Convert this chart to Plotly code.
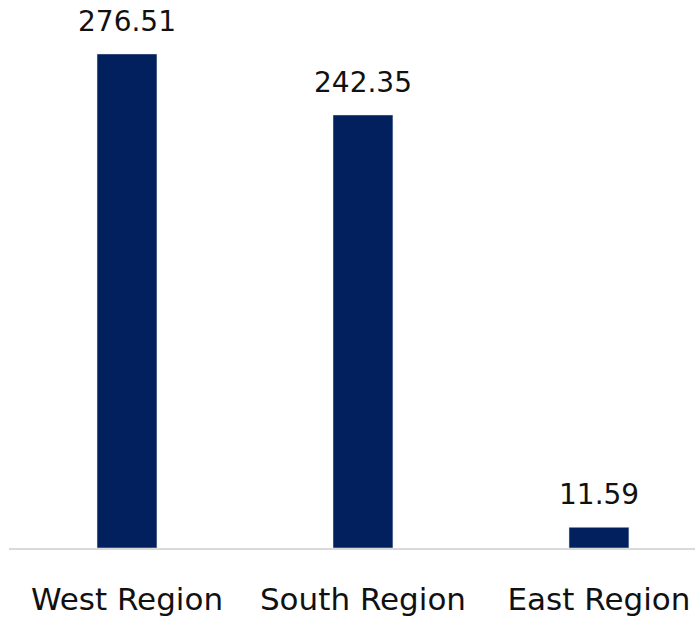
import plotly.graph_objects as go

regions = ["West Region", "South Region", "East Region"]
values = [276.51, 242.35, 11.59]
value_labels = ["276.51", "242.35", "11.59"]

BAR_COLOR = "#03205E"
FONT = "DejaVu Sans"

fig = go.Figure()
fig.add_trace(go.Bar(
    x=regions, y=values, marker_color=BAR_COLOR, width=0.254,
    hoverinfo="skip",
))

for r, v, t in zip(regions, values, value_labels):
    fig.add_annotation(x=r, y=v, text=t, showarrow=False, yanchor="bottom",
                       yshift=14, font=dict(family=FONT, size=28, color="#111111"))

fig.update_layout(
    width=695, height=621,
    margin=dict(l=9, r=0, t=0, b=73),
    paper_bgcolor="white", plot_bgcolor="white",
    showlegend=False,
    xaxis=dict(range=[-0.5, 2.407], showgrid=False, showline=True, linecolor="#d9d9d9",
               linewidth=2, ticks="", tickfont=dict(family=FONT, size=31, color="#111111"),
               ticklabelstandoff=23),
    yaxis=dict(range=[0, 306.7], visible=False, showgrid=False, zeroline=False),
)

fig.write_html("out.html")
